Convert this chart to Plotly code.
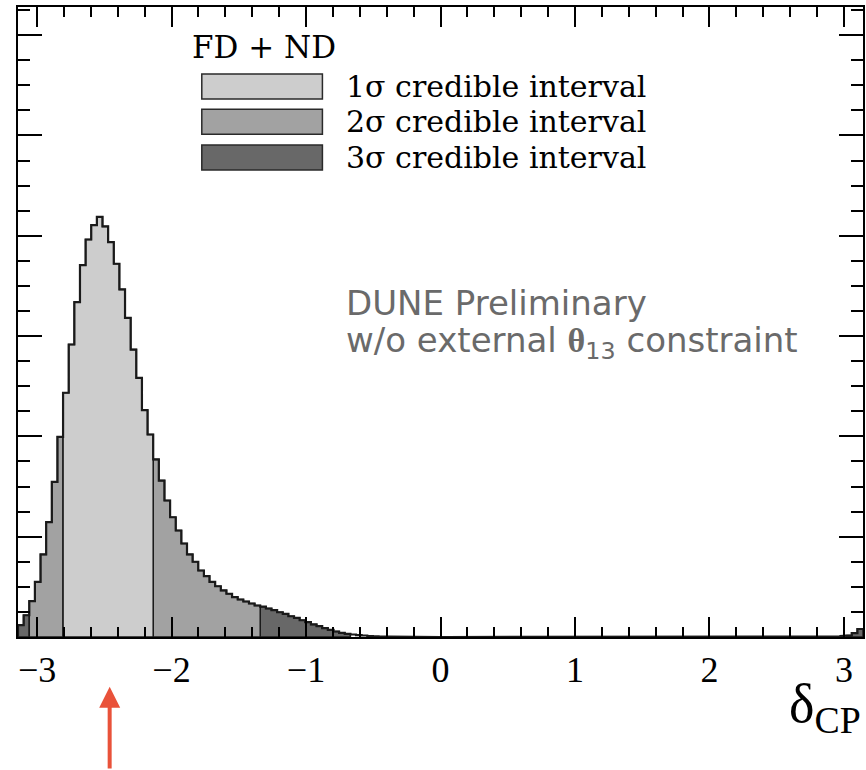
import math
import plotly.graph_objects as go

# Marginal posterior of delta_CP, 150 equal bins spanning [-pi, pi]
n_bins = 150
posterior = [
    118, 217, 357, 550, 823, 1145, 1547, 1996, 2435, 2916,
    3338, 3707, 3963, 4106, 4189, 4093, 3936, 3721, 3465, 3182,
    2866, 2584, 2261, 2019, 1770, 1560, 1361, 1194, 1062, 932,
    823, 750, 663, 606, 550, 506, 464, 431, 397, 374,
    354, 334, 314, 302, 284, 267, 247, 231, 207, 191,
    167, 148, 125, 108, 88, 72, 55, 42, 32, 25,
    18, 15, 10, 7, 5, 3, 2, 1, 1, 0,
    0, 0, 0, 0, 0, 0, 0, 0, 0, 0,
    0, 0, 0, 0, 0, 0, 0, 0, 0, 0,
    0, 0, 0, 0, 0, 0, 0, 0, 0, 0,
    0, 0, 0, 0, 0, 0, 0, 0, 0, 0,
    0, 0, 0, 0, 0, 0, 0, 0, 0, 0,
    0, 0, 0, 0, 0, 0, 0, 0, 0, 0,
    0, 0, 0, 0, 0, 0, 0, 0, 0, 0,
    0, 1, 1, 2, 3, 5, 9, 16, 38, 80,
]

# Credible intervals as [first_bin, last_bin_exclusive) ranges
interval_1sigma = [(8, 24)]
interval_2sigma = [(2, 8), (24, 43)]
interval_3sigma = [(0, 2), (43, 59), (147, 150)]

interval_labels = ["1σ credible interval", "2σ credible interval", "3σ credible interval"]
interval_colors = ["#cdcdcd", "#a2a2a2", "#686868"]

true_dcp = -2.46          # arrow marker on the delta_CP axis
y_top = 6281              # vertical extent of the frame

width = 2 * math.pi / n_bins
edges = [-math.pi + k * width for k in range(n_bins + 1)]


def step_polygon(i0, i1):
    xs, ys = [edges[i0]], [0]
    for i in range(i0, i1):
        xs += [edges[i], edges[i + 1]]
        ys += [posterior[i], posterior[i]]
    xs += [edges[i1], edges[i0]]
    ys += [0, 0]
    return xs, ys


fig = go.Figure()

for ranges, color in zip([interval_3sigma, interval_2sigma, interval_1sigma], interval_colors[::-1]):
    for i0, i1 in ranges:
        xs, ys = step_polygon(i0, i1)
        fig.add_trace(go.Scatter(
            x=xs, y=ys, mode="lines", fill="toself", fillcolor=color,
            line=dict(color="#1a1a1a", width=1.5), hoverinfo="skip", showlegend=False,
        ))

# full outline of the posterior
ox, oy = [edges[0]], [0]
for i in range(n_bins):
    ox += [edges[i], edges[i + 1]]
    oy += [posterior[i], posterior[i]]
fig.add_trace(go.Scatter(x=ox, y=oy, mode="lines", line=dict(color="#1a1a1a", width=2.2),
                         hoverinfo="skip", showlegend=False))

serif = "DejaVu Serif"
anns = []
shapes = []

# legend block
anns.append(dict(x=-1.86, y=5887, xref="x", yref="y", text="FD + ND", showarrow=False,
                 xanchor="left", yanchor="middle", font=dict(family=serif, size=31, color="black")))
swatch_x = (-1.775, -0.878)
swatch_rows = [(5364, 5613), (5012, 5261), (4656, 4905)]
for (y0, y1), lab, col in zip(swatch_rows, interval_labels, interval_colors):
    shapes.append(dict(type="rect", xref="x", yref="y", x0=swatch_x[0], x1=swatch_x[1],
                       y0=y0, y1=y1, fillcolor=col, line=dict(color="#2a2a2a", width=1.5),
                       layer="above"))
    anns.append(dict(x=-0.72, y=(y0 + y1) / 2, xref="x", yref="y", text=lab, showarrow=False,
                     xanchor="left", yanchor="middle",
                     font=dict(family=serif, size=30, color="black")))

# experiment label
grey = "#6a6a6a"
anns.append(dict(x=-0.72, y=3330, xref="x", yref="y", text="DUNE Preliminary", showarrow=False,
                 xanchor="left", yanchor="middle", font=dict(family="DejaVu Sans", size=34, color=grey)))
anns.append(dict(x=-0.72, y=2940, xref="x", yref="y",
                 text="w/o external <b><span style='font-family:Liberation Serif'>θ</span></b><sub>13</sub> constraint",
                 showarrow=False, xanchor="left", yanchor="middle",
                 font=dict(family="DejaVu Sans", size=34, color=grey)))

# axis title
anns.append(dict(x=1.0, y=-0.112, xref="paper", yref="paper", text="δ<sub>CP</sub>", showarrow=False,
                 xanchor="right", yanchor="middle",
                 font=dict(family="Liberation Serif", size=54, color="black")))

# arrow at the true value
anns.append(dict(x=true_dcp, y=-0.079, xref="x", yref="paper", text="", showarrow=True,
                 axref="pixel", ayref="pixel", ax=0, ay=90, arrowhead=2, arrowsize=1.05,
                 arrowwidth=4, arrowcolor="#e9523a", standoff=0))

axis_common = dict(showline=True, linecolor="black", linewidth=2, mirror="allticks",
                   ticks="inside", tickcolor="black", tickwidth=1.5,
                   showgrid=False, zeroline=False)

fig.update_layout(
    width=866, height=770,
    margin=dict(l=18, r=1, t=7, b=133),
    plot_bgcolor="white", paper_bgcolor="white",
    xaxis=dict(range=[-math.pi, math.pi], tick0=0, dtick=1, ticklen=20,
               minor=dict(dtick=0.2, tick0=0, ticklen=10, tickwidth=1.5, tickcolor="black", ticks="inside"),
               tickfont=dict(family="Liberation Serif", size=36, color="black"),
               **axis_common),
    yaxis=dict(range=[0, y_top], tick0=0, dtick=1000, ticklen=24, showticklabels=False,
               minor=dict(dtick=250, tick0=0, ticklen=12, tickwidth=1.5, tickcolor="black", ticks="inside"),
               **axis_common),
    annotations=anns,
    shapes=shapes,
    showlegend=False,
)

fig.write_html("out.html")
